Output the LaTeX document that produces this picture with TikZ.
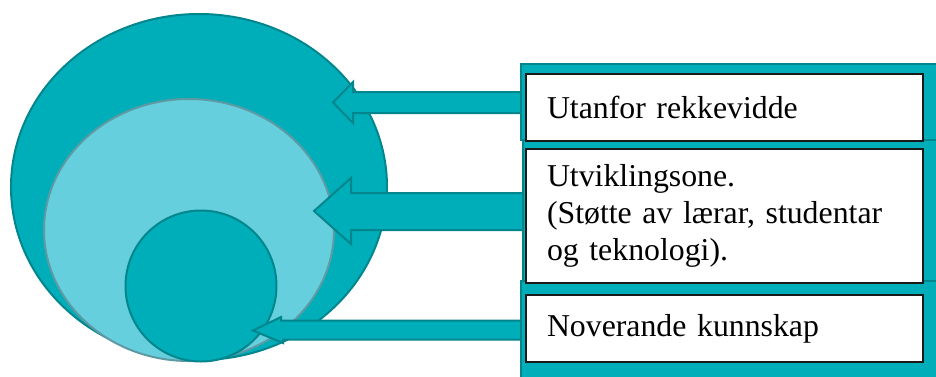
\documentclass[tikz,border=0pt]{standalone}
\usepackage{fontspec}
\setmainfont{Liberation Serif}
\usepackage{xcolor}
\usepackage{tikz}
\usetikzlibrary{positioning,shapes.geometric,backgrounds}

\definecolor{tealfill}{HTML}{00AEB9}
\definecolor{tealline}{HTML}{00868C}
\definecolor{lightfill}{HTML}{66CFDD}
\definecolor{greyline}{HTML}{5E9AA4}

\begin{document}
\begin{tikzpicture}[
    x=1pt, y=-1pt,
    zone/.style={draw=tealline, line width=2pt, inner sep=0pt},
    pointer/.style={fill=tealfill, draw=tealline, line width=2pt, line join=miter},
    backing/.style={fill=tealfill, draw=tealline, line width=1.5pt},
    textbox/.style={draw=black!90, fill=white, line width=2pt, text width=355pt,
      inner xsep=21pt, inner ysep=0pt, align=left,
      font=\fontsize{31.8}{36.8}\selectfont}
  ]
  \useasboundingbox (0,0) rectangle (936,376);

  % Text boxes
  \node[textbox, minimum height=67pt]  (outside) at (724.5,107.5) {Utanfor rekkevidde};
  \node[textbox, minimum height=134pt] (zpd)     at (724.5,216)   {Utviklingsone.\\(Støtte av lærar, studentar\\og teknologi).};
  \node[textbox, minimum height=67pt]  (known)   at (724.5,328.5) {Noverande kunnskap};

  \begin{scope}[on background layer]
    % Zones
    \node[zone, ellipse, fill=tealfill, minimum width=376pt, minimum height=346pt] (reach) at (199,187) {};
    \node[zone, ellipse, draw=greyline, fill=lightfill, minimum width=290pt, minimum height=262pt] (support) at (189,230) {};
    \node[zone, circle, fill=tealfill, minimum size=151pt] (core) at (201,286) {};

    % Arrows
    \draw[pointer] (outside.west |- 0,92) -- (353,92) -- (353,82) -- (333,102.5)
      -- (353,123) -- (353,113) -- (outside.west |- 0,113) -- cycle;
    \draw[pointer] (zpd.west |- 0,193) -- (351,193) -- (351,178) -- (314,211)
      -- (351,244) -- (351,230) -- (zpd.west |- 0,230) -- cycle;
    \draw[pointer] (known.west |- 0,320.5) -- (281,320.5) -- (281,317) -- (253,330.5)
      -- (283,343) -- (283,339.5) -- (known.west |- 0,339.5) -- cycle;

    % Backing
    \draw[backing] (521,64) rectangle (942,140);
    \draw[backing] (523,140) rectangle (942,281);
    \draw[backing] (521,281) rectangle (942,382);
  \end{scope}
\end{tikzpicture}
\end{document}
